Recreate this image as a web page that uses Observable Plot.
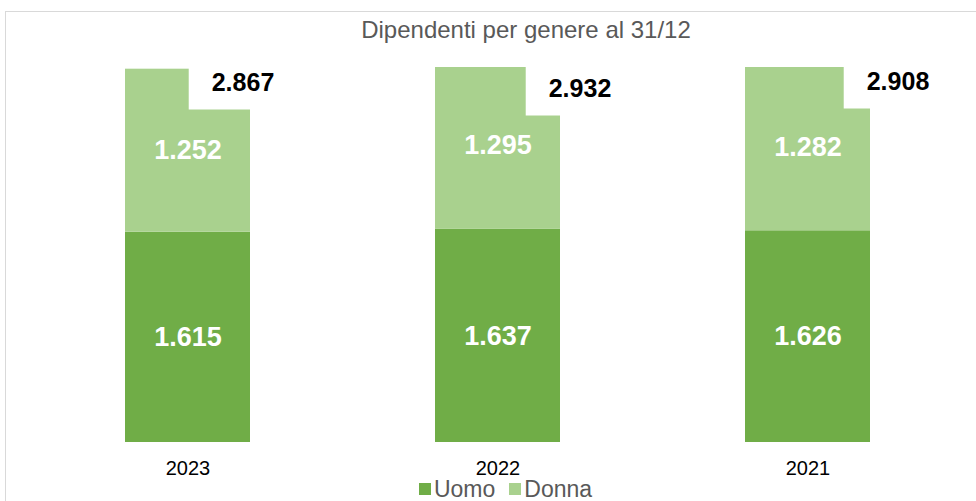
<!DOCTYPE html>
<html>
<head>
<meta charset="utf-8">
<script src="https://cdn.jsdelivr.net/npm/d3@7"></script>
<script src="https://cdn.jsdelivr.net/npm/@observablehq/plot@0.6"></script>
<style>
  html, body { margin: 0; padding: 0; background: #fff; }
  #wrap { position: relative; width: 976px; height: 501px; overflow: hidden; font-family: "Liberation Sans", Arial, sans-serif; }
  #frame { position: absolute; left: 5px; top: 11px; width: 1000px; height: 560px; border: 1px solid #d9d9d9; box-sizing: border-box; }
  #title { position: absolute; left: 0; top: 16px; width: 1052px; text-align: center; font-size: 24px; line-height: 28px; color: #595959; }
  #chart { position: absolute; left: 0; top: 50px; }
  #legend { position: absolute; left: 0; top: 475px; width: 1011px; display: flex; justify-content: center; align-items: center; font-size: 23px; line-height: 28px; color: #595959; }
  .item { display: flex; align-items: center; margin: 0 7px; }
  .sw { width: 12px; height: 12px; margin-right: 3px; }
</style>
</head>
<body>
<div id="wrap">
  <div id="frame"></div>
  <div id="title">Dipendenti per genere al 31/12</div>
  <div id="chart"></div>
  <div id="legend"></div>
</div>
<script>
// ---- data ----
const years = ["2023", "2022", "2021"];
const uomo = [1615, 1637, 1626];
const donna = [1252, 1295, 1282];
const totali = [2867, 2932, 2908];
const generi = ["Uomo", "Donna"];
const colori = ["#70AD47", "#A9D18E"];

// ---- layout config for total labels (manual placement as in the original) ----
const totalDx = [55, 82, 90];
const totalDy = [15, 21, 14];

const fmt = d3.formatLocale({decimal: ",", thousands: ".", grouping: [3], currency: ["", "€"]}).format(",d");

const data = years.flatMap((a, i) => [
  {anno: a, genere: "Uomo", valore: uomo[i]},
  {anno: a, genere: "Donna", valore: donna[i]}
]);

const plot = Plot.plot({
  width: 976,
  height: 430,
  marginTop: 17,
  marginBottom: 38,
  marginLeft: 32.5,
  marginRight: 13.5,
  x: {domain: years, paddingInner: 0.597, paddingOuter: 0.2985, label: null},
  y: {domain: [0, 2880], axis: null},
  color: {domain: generi, range: colori},
  style: {fontFamily: "'Liberation Sans', Arial, sans-serif", background: "transparent", overflow: "visible", color: "#000"},
  marks: [
    Plot.barY(data, {x: "anno", y: "valore", fill: "genere", z: "genere", clip: true}),
    Plot.text(data, Plot.stackY({x: "anno", y: "valore", z: "genere", text: d => fmt(d.valore), fill: "white", fontSize: 27, fontWeight: "bold"})),
    ...years.map((a, i) => Plot.text([totali[i]], {
      x: () => a, text: d => fmt(d), frameAnchor: "top", lineAnchor: "middle", dx: totalDx[i], dy: totalDy[i],
      fontSize: 25, fontWeight: "bold", fill: "#000"
    })),
    Plot.axisX({tickSize: 0, tickPadding: 18, fontSize: 20, fill: "#000", label: null})
  ]
});

document.getElementById("chart").appendChild(plot);

// white boxes behind the total labels (as in the original Excel data labels)
const totalTexts = new Set(totali.map(fmt));
const svgRect = plot.getBoundingClientRect();
Array.from(plot.querySelectorAll("text")).forEach(t => {
  if (!totalTexts.has(t.textContent.trim())) return;
  const b = t.getBoundingClientRect();
  const r = document.createElementNS("http://www.w3.org/2000/svg", "rect");
  const x0 = b.left - svgRect.left - 23;
  const x1 = b.right - svgRect.left + 25;
  const y1 = b.bottom - svgRect.top + 14;
  r.setAttribute("x", x0);
  r.setAttribute("y", 0);
  r.setAttribute("width", Math.max(0, x1 - x0));
  r.setAttribute("height", Math.max(0, y1));
  r.setAttribute("fill", "#fff");
  const g = t.parentNode;
  g.parentNode.insertBefore(r, g);
});

// legend
const legend = document.getElementById("legend");
generi.forEach((g, i) => {
  const it = document.createElement("div");
  it.className = "item";
  const sw = document.createElement("div");
  sw.className = "sw";
  sw.style.background = colori[i];
  const lab = document.createElement("span");
  lab.textContent = g;
  it.appendChild(sw);
  it.appendChild(lab);
  legend.appendChild(it);
});
</script>
</body>
</html>
